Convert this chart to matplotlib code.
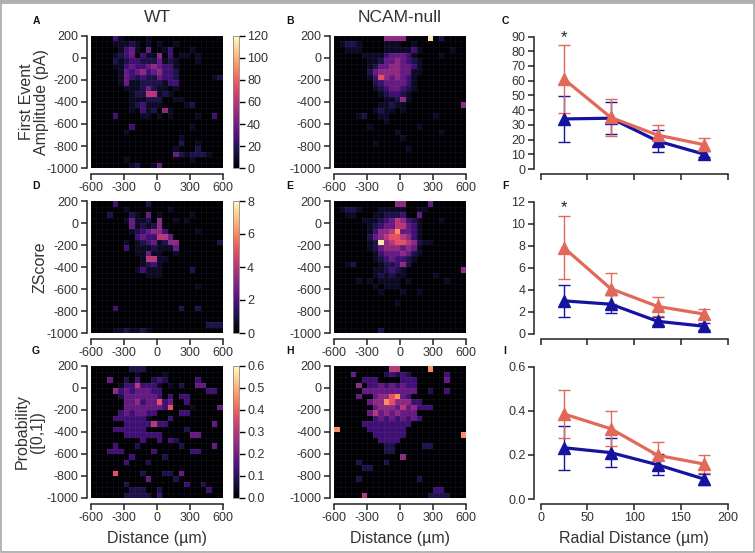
import numpy as np
import matplotlib
matplotlib.use('Agg')
import matplotlib.pyplot as plt
from matplotlib.patches import Rectangle

plt.rcParams['font.family'] = ['Liberation Sans', 'DejaVu Sans']
plt.rcParams['axes.unicode_minus'] = False

W, H = 755, 553

# heatmap cells: one char per 50 um cell, code -> fraction of colour max
levels = [0.0, 0.07, 0.13, 0.21, 0.3, 0.4, 0.5, 0.62, 0.76, 0.95]

amp_wt = [
    "000031000010000000000000",
    "000011121010100100000000",
    "000001341040013000100000",
    "000012340311503011010000",
    "000021233222412100010000",
    "000011343345433100000000",
    "000001434534533200000000",
    "000001432322433200000012",
    "000001411222213300000000",
    "000000111242110100000000",
    "000000012266121000000000",
    "000000011122200110000000",
    "000000012311100001200000",
    "000000010312051000000000",
    "000030000110101000010030",
    "000000000000000000000000",
    "000000030000000000100000",
    "000000100000000000000000",
    "000000000000000010000000",
    "000000000000000020010000",
    "000000000000000100020000",
    "000000000000000421222100",
    "000000100000000000100000",
    "000000012001400000000000",
]
amp_null = [
    "000000000555500009020000",
    "012210000111001000000000",
    "001110000111113100000100",
    "000001111344431000010000",
    "000000112445432100000000",
    "000000124455443100000000",
    "000000245555441100000000",
    "000000137545431000000000",
    "000000023444431000000000",
    "000000012344321000000000",
    "000000001233210000000000",
    "000000000112510000000000",
    "000000001121100000000005",
    "000000012110100000000000",
    "000012001100000000100000",
    "000000000100000000000000",
    "000000100000000100000000",
    "000000000001000000010000",
    "000000000000100000000000",
    "000000010000000000000000",
    "000000000000010000000000",
    "000000000000000000000000",
    "000000000000000000000000",
    "000000000000000000000000",
]
z_wt = [
    "000030000020000000000000",
    "000000100000001000000000",
    "000200021040100000100000",
    "000000141120500101000000",
    "000000041212500000000000",
    "000000012345530000010000",
    "000000003433664000000000",
    "000000101234125500000002",
    "000000301112111400000000",
    "000000001141100100000000",
    "000000000166110000000000",
    "000000000123100000000000",
    "000000001311100000200000",
    "000000000011100000000000",
    "000000000000000000000000",
    "000000000000000000010000",
    "000000000000000000000000",
    "000000000000000000000000",
    "000000000000000000000000",
    "000030000000000020020000",
    "000000000000000000000000",
    "000000000000000000000000",
    "000000000000000000000222",
    "000011211210000000000000",
]
z_null = [
    "000000000005500004000000",
    "012210001111100110000000",
    "001100011222300400000000",
    "000001112346532100010000",
    "000000123446643100000000",
    "000000135568443100000000",
    "000000245677653100000000",
    "000000129567765211000000",
    "000000124555454100000000",
    "000000013444542100000000",
    "000000012343321000000000",
    "001200001223520000000000",
    "000000011232100000000005",
    "000000012121100000100000",
    "000010101111010000001000",
    "000000010111000000000000",
    "000000001000100100000000",
    "000000000000000000000000",
    "000000000001000000000000",
    "000000000000000000000000",
    "000000000000000000000000",
    "000000000000000000000000",
    "000000000000000000000000",
    "000000002000000000000000",
]
p_wt = [
    "000000022200000000000000",
    "000000001000010000000000",
    "000400203002320000030000",
    "000001336333101020044000",
    "000053434443300000000330",
    "000002444444303033000000",
    "000000445344734003000000",
    "000000444444437000100004",
    "000003434433000033000000",
    "000033333310003000000000",
    "000000333336330000000040",
    "000033333300000002000000",
    "000000333333300000440000",
    "000000000300303200000000",
    "000030002000000020000040",
    "000333000003000000330000",
    "000000030000020000000000",
    "000000300020000000000000",
    "000000000000000000000000",
    "000070000200022040000000",
    "000000000040000200000000",
    "000000200000000003002000",
    "000000022200200000000300",
    "000000222220300000000000",
]
p_null = [
    "000000000066000008000000",
    "000400000232320000003000",
    "000003330000333000004000",
    "000050334343433000000000",
    "000004444444444002003000",
    "000040045578430000000000",
    "000000455875553300000000",
    "000000045554645333000000",
    "000000464545444000000000",
    "000000034343434300000000",
    "000003333333330000000000",
    "800000333333300000000000",
    "000000033333300000000008",
    "000000003333000000000000",
    "000000000220000022000000",
    "000000000220000000000000",
    "000000000000500000000000",
    "000020000200000000000000",
    "000002200000000000000000",
    "000000000000000000000000",
    "000020000000000200000000",
    "000000000000000000000000",
    "000000000000000000330000",
    "000006000000000002222000",
]

heat_vmax = [120, 8, 0.6]
cbar_ticks = [np.arange(0, 121, 20), np.arange(0, 9, 2), np.arange(0, 0.61, 0.1)]
cbar_fmt = ['%d', '%d', '%.1f']

radial = [25, 75, 125, 175]
amp_wt_mean = [34, 34.5, 19, 10]
amp_wt_err = [15.5, 11, 7.5, 2]
amp_null_mean = [61, 35, 23, 16.5]
amp_null_err = [23, 12.5, 7, 4.5]
z_wt_mean = [3.0, 2.7, 1.15, 0.7]
z_wt_err = [1.45, 0.8, 0.35, 0.3]
z_null_mean = [7.8, 4.1, 2.5, 1.8]
z_null_err = [2.85, 1.4, 0.85, 0.45]
p_wt_mean = [0.232, 0.21, 0.155, 0.09]
p_wt_err = [0.1, 0.066, 0.048, 0.025]
p_null_mean = [0.385, 0.318, 0.198, 0.158]
p_null_err = [0.11, 0.08, 0.062, 0.04]

line_ylim = [90, 12, 0.6]
line_yticks = [np.arange(0, 91, 10), np.arange(0, 13, 2), [0.0, 0.2, 0.4, 0.6]]
star_y = [89, 11.4, None]

ylabels = ["First Event\nAmplitude (pA)", "ZScore", "Probability\n([0,1])"]
ylabel_x = [34, 40, 30]
letters = [("A", "B", "C"), ("D", "E", "F"), ("G", "H", "I")]

BLUE = '#1414a0'
RED = '#e2695a'
TXT = '#333333'


def px(l, t, w, h):
    return [l / W, 1 - (t + h) / H, w / W, h / H]


def to_grid(rows, vmax):
    g = np.zeros((24, 24))
    for i, r in enumerate(rows):
        r = r.ljust(24, '0')[:24]
        g[i] = [levels[int(c)] * vmax for c in r]
    return g


def style_axis(ax, lo, bo):
    ax.spines['top'].set_visible(False)
    ax.spines['right'].set_visible(False)
    ax.spines['left'].set_position(('outward', lo))
    ax.spines['bottom'].set_position(('outward', bo))
    for s in ('left', 'bottom'):
        ax.spines[s].set_linewidth(1.1)
        ax.spines[s].set_color('#222222')
    ax.tick_params(direction='out', length=4, width=1.1, labelsize=9,
                   labelcolor=TXT, color='#222222', pad=2)


fig = plt.figure(figsize=(W / 100, H / 100), dpi=100)

xe = np.linspace(-600, 600, 25)
ye = np.linspace(200, -1000, 25)
grids = [(amp_wt, amp_null), (z_wt, z_null), (p_wt, p_null)]
tops = [36, 201, 366]

for r in range(3):
    top = tops[r]
    vmax = heat_vmax[r]
    for c, left in enumerate([90.7, 334.3]):
        ax = fig.add_axes(px(left, top, 132, 132))
        mesh = ax.pcolormesh(xe, ye, to_grid(grids[r][c], vmax), cmap='magma',
                             vmin=0, vmax=vmax, edgecolors='face', linewidth=0)
        # faint cell grid
        ax.vlines(xe, -1000, 200, colors='white', alpha=0.07, lw=0.4)
        ax.hlines(ye, -600, 600, colors='white', alpha=0.07, lw=0.4)
        ax.set_xlim(-600, 600)
        ax.set_ylim(-1000, 200)
        ax.set_xticks([-600, -300, 0, 300, 600])
        ax.set_yticks([200, 0, -200, -400, -600, -800, -1000])
        style_axis(ax, 3, 4)
        if c == 0:
            cax = fig.add_axes(px(232.7, top, 6, 132))
            cb = fig.colorbar(mesh, cax=cax, ticks=cbar_ticks[r], format=cbar_fmt[r])
            cb.outline.set_linewidth(0.6)
            cb.outline.set_edgecolor('#888888')
            cax.tick_params(direction='out', length=4, width=1.0, labelsize=9,
                            labelcolor=TXT, pad=2)

    # radial profile
    ax = fig.add_axes(px(540.7, top + 0.5, 187, 132.5))
    wt = [(amp_wt_mean, amp_wt_err), (z_wt_mean, z_wt_err), (p_wt_mean, p_wt_err)][r]
    nl = [(amp_null_mean, amp_null_err), (z_null_mean, z_null_err), (p_null_mean, p_null_err)][r]
    ax.errorbar(radial, wt[0], yerr=wt[1], color=BLUE, lw=2.3, marker='^', ms=8,
                elinewidth=1.0, capsize=4, capthick=1.0)
    ax.errorbar(radial, nl[0], yerr=nl[1], color=RED, lw=2.3, marker='^', ms=8,
                elinewidth=1.0, capsize=4, capthick=1.0)
    ax.set_xlim(0, 200)
    ax.set_ylim(0, line_ylim[r])
    ax.set_xticks([0, 50, 100, 150, 200])
    ax.set_yticks(line_yticks[r])
    if r == 2:
        ax.set_yticklabels(['0.0', '0.2', '0.4', '0.6'])
    style_axis(ax, 5, 3.5)
    if r < 2:
        ax.set_xticklabels([])
    if star_y[r] is not None:
        ax.text(25, star_y[r], '*', ha='center', va='center', fontsize=12,
                color='#222222', clip_on=False)

    fig.text(ylabel_x[r] / W, 1 - (top + 66) / H, ylabels[r], rotation=90,
             ha='center', va='center', fontsize=11.5, color=TXT, linespacing=1.0)
    for (lx, ch) in zip([36, 290, 505], letters[r]):
        fig.text(lx / W, 1 - (top - 15) / H, ch, ha='center', va='center',
                 fontsize=7.5, fontweight='bold', color='#111111')

fig.text(157 / W, 1 - 18 / H, "WT", ha='center', va='center', fontsize=12.5, color=TXT)
fig.text(400 / W, 1 - 18 / H, "NCAM-null", ha='center', va='center', fontsize=12.5, color=TXT)
fig.text(157 / W, 1 - 538 / H, "Distance (µm)", ha='center', va='center', fontsize=11.5, color=TXT)
fig.text(400 / W, 1 - 538 / H, "Distance (µm)", ha='center', va='center', fontsize=11.5, color=TXT)
fig.text(634 / W, 1 - 538 / H, "Radial Distance (µm)", ha='center', va='center', fontsize=11.5, color=TXT)

fig.patches.append(Rectangle((0.001, 0.001), 0.998, 0.994, transform=fig.transFigure,
                             fill=False, edgecolor='#a8a8a8', lw=1.2))
fig.patches.append(Rectangle((0, 0.994), 1, 0.006, transform=fig.transFigure,
                             facecolor='#b0b0b0', edgecolor='none'))

fig.savefig('out.png', dpi=100)
